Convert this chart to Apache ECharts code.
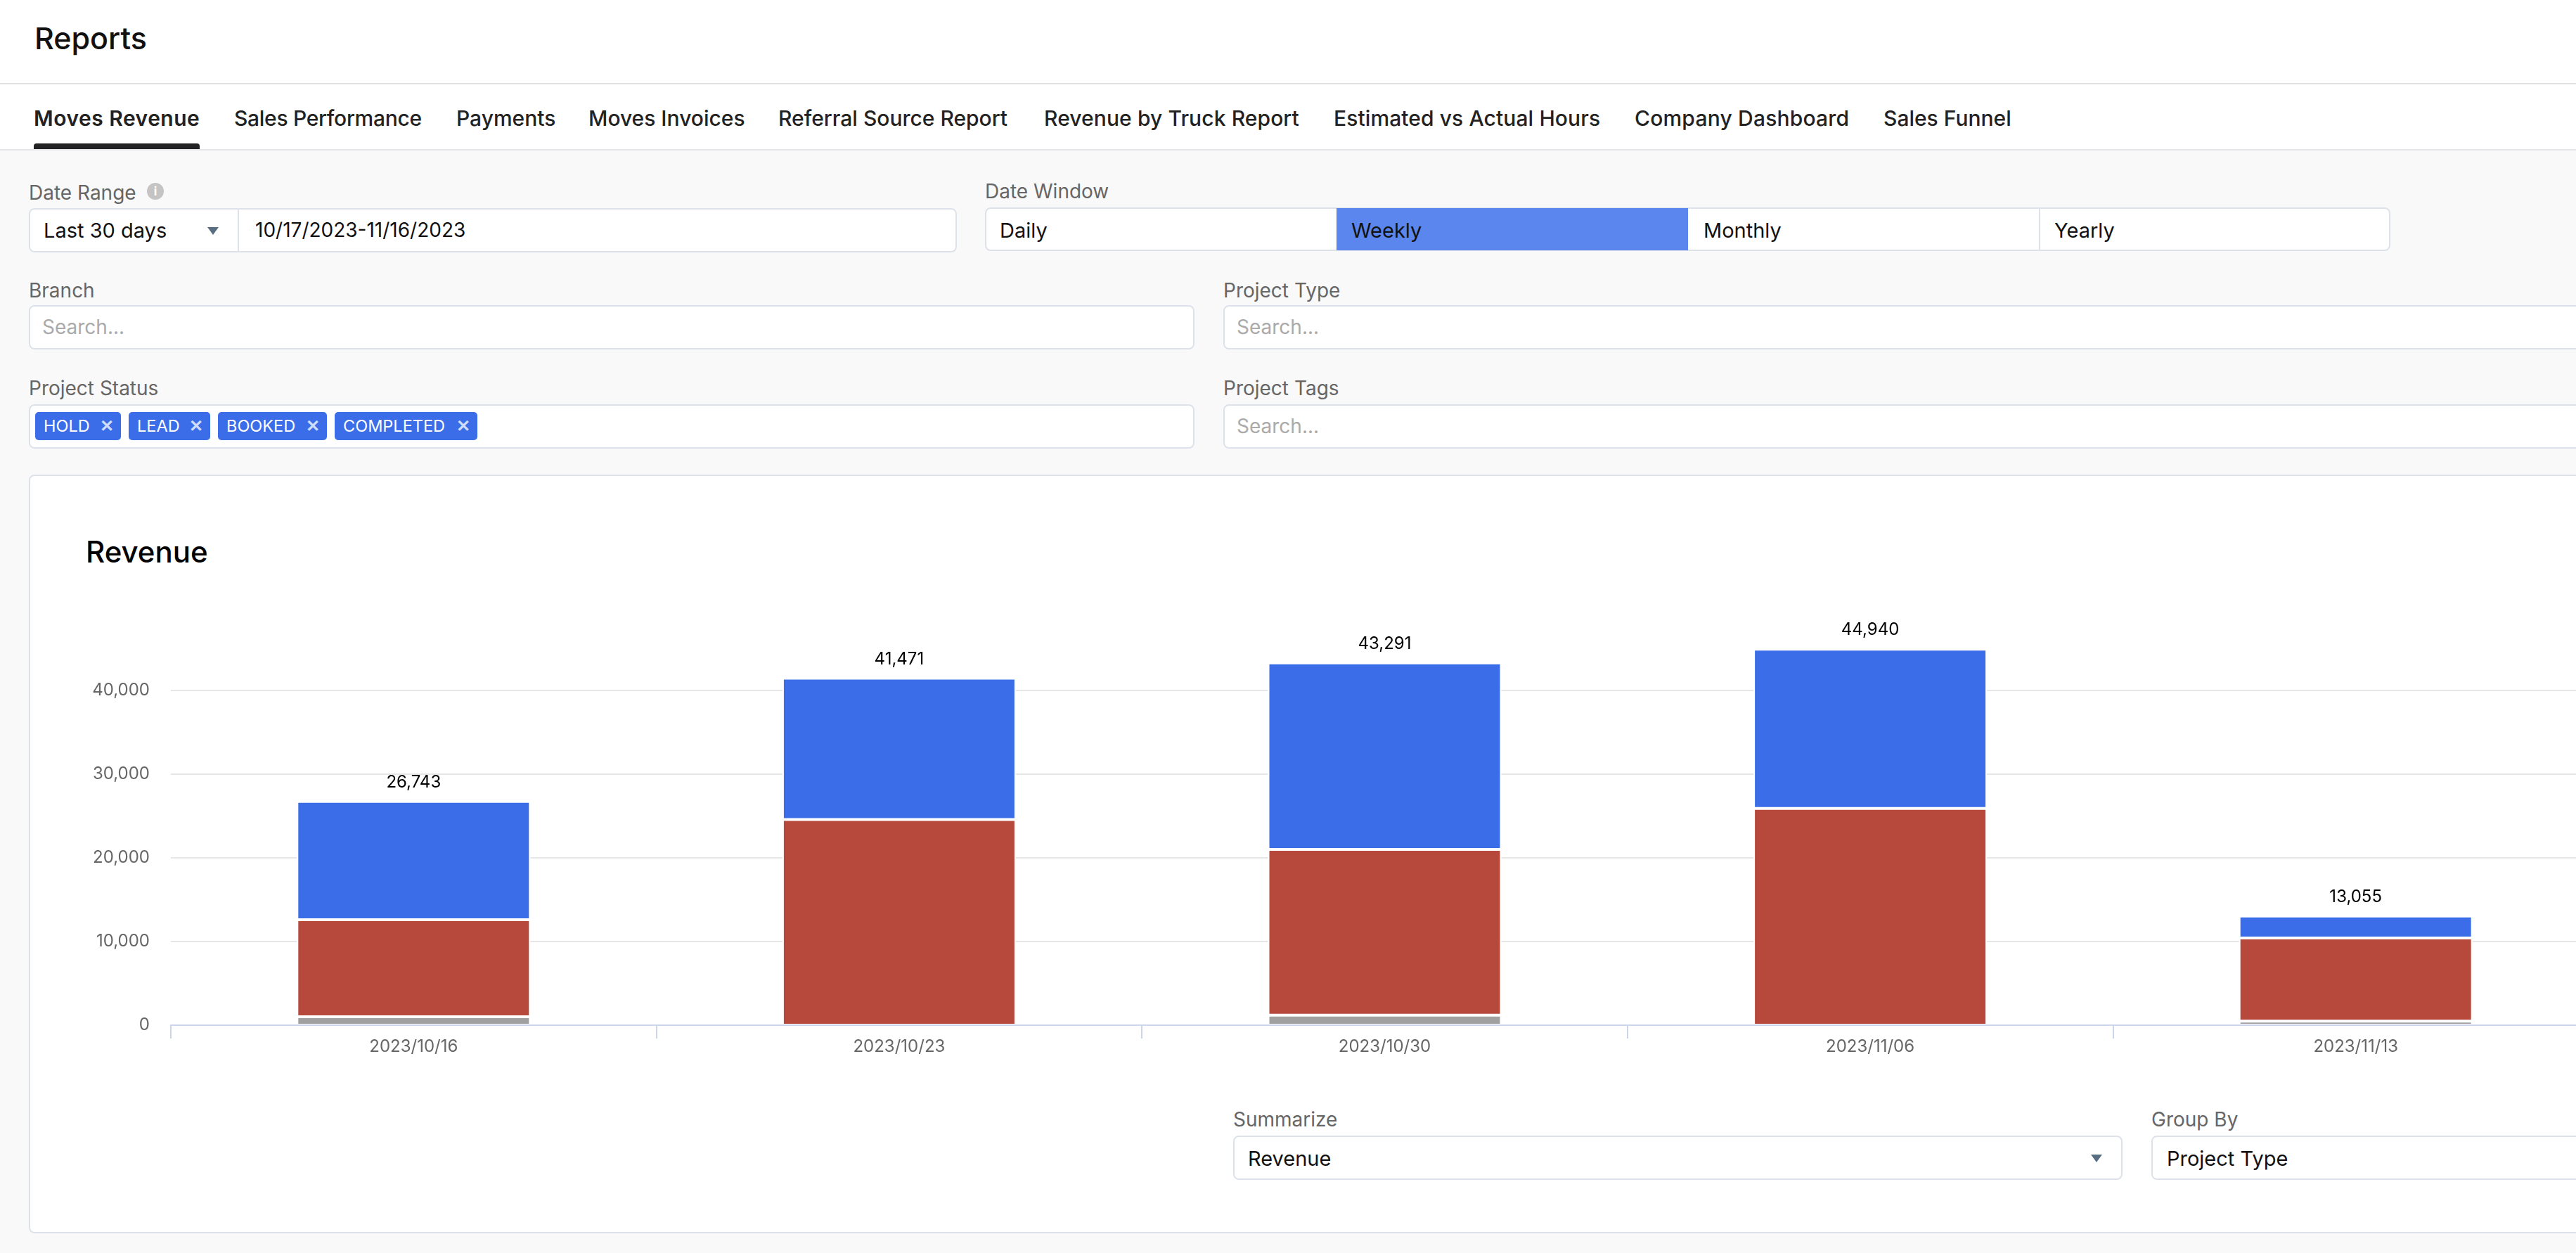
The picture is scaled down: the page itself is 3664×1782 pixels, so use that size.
<!DOCTYPE html>
<html>
<head>
<meta charset="utf-8">
<title>Reports</title>
<script src="https://cdn.jsdelivr.net/npm/echarts@6/dist/echarts.min.js"></script>
<style>
html, body { margin: 0; padding: 0; width: 3664px; height: 1782px; overflow: hidden; background: #f9f9f9; }
body { position: relative; font-family: Inter, sans-serif; color: #111; }
.abs { position: absolute; white-space: nowrap; }
.txt { position: absolute; white-space: nowrap; transform: translateY(-50%); line-height: 1; font-size: 29px; }
.lbl { color: #666; font-size: 28px; margin-top: 2px; }
.ph { color: #aaa; font-size: 28px; }
.tab { font-size: 30px; font-weight: 500; color: #222; }
.box { position: absolute; box-sizing: border-box; background: #fff; border: 2px solid #dde2ea; border-radius: 8px; }
.chip { position: absolute; box-sizing: border-box; top: 586px; height: 40px; background: #3b6de8; border-radius: 5px; color: #fff; font-size: 23.5px; line-height: 40px; padding-left: 12px; }
.chip i { position: absolute; right: 10px; top: 0; font-style: normal; color: #cfdcfb; font-size: 24px; font-weight: 700; }
.tri { position: absolute; width: 0; height: 0; border-left: 8px solid transparent; border-right: 8px solid transparent; border-top: 11px solid #5a6e82; }
#chart { position: absolute; left: 0; top: 677px; width: 3800px; height: 880px; }
</style>
</head>
<body>
<div class="abs" style="left:0;top:0;width:3664px;height:213px;background:#fff"></div>
<div class="abs" style="left:0;top:118px;width:3664px;height:2px;background:#e2e2e2"></div>
<div class="abs" style="left:0;top:212px;width:3664px;height:2px;background:#e2e4e8"></div>
<div class="txt" style="left:49px;top:54px;font-size:43px;font-weight:500">Reports</div>

<div class="txt tab" style="left:48px;top:168px;font-weight:600;letter-spacing:0.5px">Moves Revenue</div>
<div class="txt tab" style="left:333px;top:168px;letter-spacing:-0.3px">Sales Performance</div>
<div class="txt tab" style="left:649px;top:168px">Payments</div>
<div class="txt tab" style="left:837px;top:168px">Moves Invoices</div>
<div class="txt tab" style="left:1107px;top:168px">Referral Source Report</div>
<div class="txt tab" style="left:1485px;top:168px;letter-spacing:0.1px">Revenue by Truck Report</div>
<div class="txt tab" style="left:1897px;top:168px;letter-spacing:0.1px">Estimated vs Actual Hours</div>
<div class="txt tab" style="left:2325px;top:168px;letter-spacing:0.2px">Company Dashboard</div>
<div class="txt tab" style="left:2679px;top:168px">Sales Funnel</div>
<div class="abs" style="left:48px;top:204px;width:236px;height:8px;background:#222;border-radius:4px 4px 0 0"></div>

<div class="txt lbl" style="left:41px;top:272px">Date Range</div>
<div class="abs" style="left:209px;top:260px;width:24px;height:24px;border-radius:50%;background:#c4c4c4;color:#fff;font-size:17px;line-height:24px;text-align:center;font-weight:700">i</div>
<div class="box" style="left:41px;top:296px;width:1320px;height:63px"></div>
<div class="abs" style="left:338px;top:297px;width:2px;height:61px;background:#dde2ea"></div>
<div class="txt" style="left:62px;top:327px">Last 30 days</div>
<div class="tri" style="left:295px;top:323px"></div>
<div class="txt" style="left:363px;top:327px;font-size:28px">10/17/2023-11/16/2023</div>

<div class="txt lbl" style="left:1401px;top:270px">Date Window</div>
<div class="box" style="left:1401px;top:295px;width:1999px;height:62px"></div>
<div class="abs" style="left:1901px;top:296px;width:500px;height:60px;background:#5a86ed"></div>
<div class="abs" style="left:2900px;top:296px;width:2px;height:60px;background:#dde2ea"></div>
<div class="txt" style="left:1422px;top:327px">Daily</div>
<div class="txt" style="left:1922px;top:327px">Weekly</div>
<div class="txt" style="left:2423px;top:327px">Monthly</div>
<div class="txt" style="left:2922px;top:327px">Yearly</div>

<div class="txt lbl" style="left:41px;top:411px">Branch</div>
<div class="box" style="left:41px;top:434px;width:1658px;height:63px"></div>
<div class="txt ph" style="left:60px;top:465px">Search...</div>
<div class="txt lbl" style="left:1740px;top:411px">Project Type</div>
<div class="box" style="left:1740px;top:434px;width:2000px;height:63px"></div>
<div class="txt ph" style="left:1759px;top:465px">Search...</div>

<div class="txt lbl" style="left:41px;top:550px">Project Status</div>
<div class="box" style="left:41px;top:575px;width:1658px;height:63px"></div>
<div class="chip" style="left:50px;width:122px">HOLD<i>✕</i></div>
<div class="chip" style="left:183px;width:116px">LEAD<i>✕</i></div>
<div class="chip" style="left:310px;width:155px">BOOKED<i>✕</i></div>
<div class="chip" style="left:476px;width:203px">COMPLETED<i>✕</i></div>
<div class="txt lbl" style="left:1740px;top:550px">Project Tags</div>
<div class="box" style="left:1740px;top:575px;width:2000px;height:63px"></div>
<div class="txt ph" style="left:1759px;top:606px">Search...</div>

<div class="box" style="left:41px;top:675px;width:3700px;height:1079px"></div>
<div class="txt" style="left:122px;top:785px;font-size:42px;font-weight:500;color:#000">Revenue</div>

<div class="txt lbl" style="left:1754px;top:1590px">Summarize</div>
<div class="box" style="left:1754px;top:1615px;width:1265px;height:63px"></div>
<div class="txt" style="left:1775px;top:1647px">Revenue</div>
<div class="tri" style="left:2974px;top:1642px"></div>
<div class="txt lbl" style="left:3060px;top:1590px">Group By</div>
<div class="box" style="left:3060px;top:1615px;width:700px;height:63px"></div>
<div class="txt" style="left:3082px;top:1647px">Project Type</div>

<div id="chart"></div>

<script>
var categories = ["2023/10/16", "2023/10/23", "2023/10/30", "2023/11/06", "2023/11/13"];
var grayValues = [1000, 0, 1200, 0, 480];
var redValues = [11600, 24570, 19800, 25900, 9950];
var blueValues = [14143, 16901, 22291, 19040, 2625];
var totals = [26743, 41471, 43291, 44940, 13055];

function renderStack(id) {
    var myChart = echarts.init(document.getElementById(id));
    var barStyle = color => ({
        color: color,
        borderColor: "#fff",
        borderWidth: 2
    });
    var option = {
        animation: false,
        backgroundColor: "transparent",
        textStyle: {
            fontFamily: "Inter"
        },
        grid: {
            left: 243,
            top: 186,
            width: 3453,
            height: 595
        },
        xAxis: {
            type: "category",
            data: categories,
            z: 3,
            axisTick: {
                show: true,
                length: 19,
                lineStyle: {
                    color: "#ccd6eb",
                    width: 2
                }
            },
            axisLine: {
                lineStyle: {
                    color: "#ccd6eb",
                    width: 2
                }
            },
            axisLabel: {
                color: "#666",
                fontSize: 24,
                margin: 19
            }
        },
        yAxis: {
            type: "value",
            min: 0,
            max: 50000,
            interval: 10000,
            axisLine: {
                show: false
            },
            axisTick: {
                show: false
            },
            axisLabel: {
                color: "#666",
                fontSize: 24,
                margin: 30,
                padding: [3, 0, 0, 0],
                showMaxLabel: false,
                formatter: v => v.toLocaleString("en-US")
            },
            splitLine: {
                showMaxLine: false,
                lineStyle: {
                    color: "#e6e6e6",
                    width: 2
                }
            }
        },
        series: [{
            type: "bar",
            stack: "total",
            barWidth: 332,
            data: grayValues,
            itemStyle: barStyle("#a0a0a0")
        }, {
            type: "bar",
            stack: "total",
            data: redValues,
            itemStyle: barStyle("#b6483c")
        }, {
            type: "bar",
            stack: "total",
            data: blueValues,
            itemStyle: barStyle("#3b6de8"),
            label: {
                show: true,
                position: "top",
                distance: 15,
                color: "#000",
                fontSize: 24,
                formatter: p => totals[p.dataIndex].toLocaleString("en-US")
            }
        }]
    };
    myChart.setOption(option);
}

renderStack("chart");
</script>
</body>
</html>
